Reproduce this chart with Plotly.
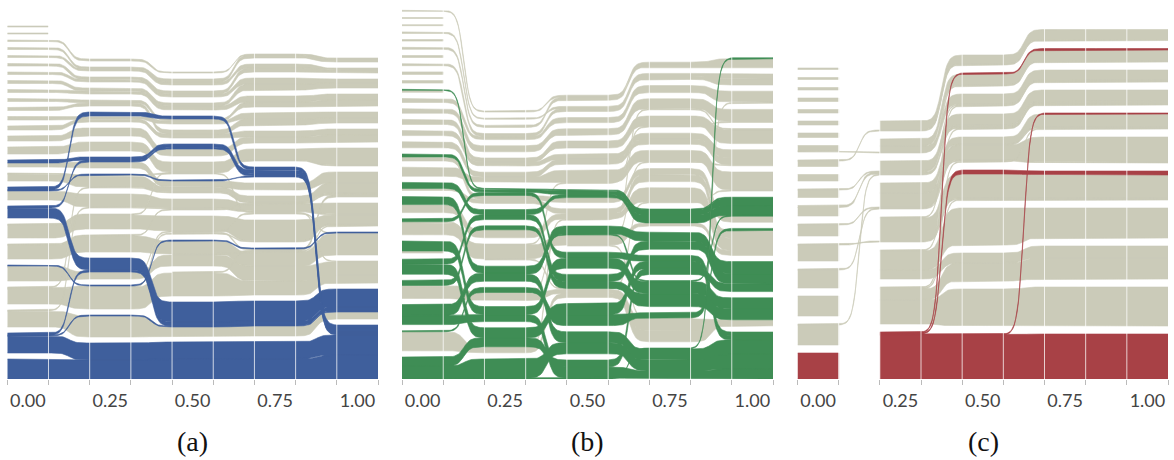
import numpy as np
import plotly.graph_objects as go

N = None  # band not present at that stage

TICK_TEXT = ["0.00", "0.25", "0.50", "0.75", "1.00"]
PANEL_LABELS = ["(a)", "(b)", "(c)"]

GRAY = "#cbcbb9"
HILITE = ["#3f5f9c", "#3f8d55", "#a84146"]

# ---------------- panel (a) ----------------
# cluster index per stage (0 = topmost cluster of that stage)
A_CLUSTERS = [
    [0, N, N, N, N], [1, N, N, N, N], [2, 0, 0, 0, 0], [3, 1, 1, 0, 0],
    [4, 1, 1, 1, 1], [5, 2, 2, 1, 1], [6, 2, 2, 2, 2], [7, 3, 3, 2, 2],
    [8, 3, 3, 3, 3], [9, 4, 4, 3, 3], [10, 4, 5, 4, 4], [11, 5, 4, 4, 4],
    [12, 5, 5, 5, 5], [13, 6, 6, 5, 5], [14, 7, 7, 6, 6], [15, 8, 8, 8, 7],
    [16, 9, 8, 9, 7], [17, 10, 9, 9, 8], [19, 11, 10, 10, 8], [20, 12, 11, 11, 9],
    [21, 13, 11, 11, 10], [22, 14, 12, 11, 10], [23, 15, 13, 12, 11],
    # single entities crossing between groups
    [19, 11, 7, 6, 6], [20, 12, 9, 9, 7], [22, 14, 10, 10, 8], [N, N, 10, 11, 7],
    [N, N, 11, 11, 8], [N, N, 12, 11, 7], [16, 9, 7, 9, 10], [21, 13, 10, 9, 9],
    [23, 10, 9, 9, 8], [22, 9, 8, 9, 7],
    # highlighted
    [25, 16, 14, 13, 12], [24, 16, 14, 13, 12], [24, 13, 13, 12, 11],
    [24, 15, 13, 12, 11], [18, 13, 13, 12, 11], [18, 8, 6, 7, 12],
    [15, 8, 6, 7, 12], [17, 5, 4, 7, 12], [17, 9, 8, 7, 12], [21, 14, 11, 11, 9],
]
A_WEIGHTS = [
    [1, 0, 0, 0, 0], [1, 0, 0, 0, 0], [1.5, 2, 1, 1, 1], [2, 2, 3, 3, 3],
    [2, 2, 3, 4, 2], [2.5, 2.5, 3, 4, 3], [2.5, 2.5, 3, 6, 4], [3, 3, 3, 6, 5],
    [3, 3, 4, 6, 6], [3, 3, 2, 5, 6], [3, 3, 4, 6, 5], [3.5, 3, 3, 6, 6],
    [4, 3, 4, 6, 6], [5, 8, 7, 6, 7], [7, 9, 10, 11, 17], [4, 6, 6, 7, 11],
    [7, 11, 5, 6, 10], [9, 13, 9, 7, 11], [13, 14, 15, 21, 9], [14, 16, 13, 14, 21],
    [14, 6, 11, 15, 13], [15, 22, 23, 14, 8], [16, 21, 9, 10, 7],
    [1, 1, 1, 1, 1], [1, 1, 1, 1, 1], [1, 1, 1, 1, 1], [0, 0, 1, 1, 1],
    [0, 0, 1, 1, 1], [0, 0, 1, 1, 1], [1, 1, 1, 1, 1], [1, 1, 1, 1, 1],
    [1, 1, 1, 1, 1], [1, 1, 1, 1, 1],
    [20, 19, 20, 20, 24], [17, 17, 17, 17, 20], [2, 2, 4, 4, 4],
    [1, 1, 1, 1, 1], [10, 12, 20, 20, 18], [2, 2, 2, 2, 2],
    [3, 3, 3, 4, 4], [3, 4, 3, 3, 3], [1, 1, 1, 1, 1], [1, 1, 1, 1, 1],
]
A_HIGHLIGHT = [0] * 33 + [1] * 10

# ---------------- panel (b) ----------------
B_CLUSTERS = [
    [0, 0, 0, 0, 0], [5, 2, 0, 0, 0], [3, 1, 1, 1, 1], [7, 3, 1, 1, 1],
    [11, 3, 2, 2, 2], [12, 4, 3, 3, 3], [13, 5, 4, 4, 4], [14, 5, 5, 5, 5],
    [15, 6, 5, 5, 5], [17, 6, 6, 6, 6], [16, 7, 7, 7, 7], [18, 7, 8, 7, 8],
    [19, 9, 8, 8, 8], [20, 10, 9, 9, 8], [23, 12, 11, 13, 10], [25, 14, 11, 13, 10],
    [1, N, N, N, N], [2, N, N, N, N], [4, N, N, N, N], [6, N, N, N, N],
    [8, N, N, N, N], [9, N, N, N, N], [10, N, N, N, N], [21, N, N, N, N],
    # single entities crossing between groups
    [20, 10, 6, 4, 3], [23, 12, 9, 6, 5], [N, 10, 11, 8, 6], [N, N, 9, 13, 2],
    [N, 14, 8, 3, 4],
    # highlighted
    [16, 7, 7, 9, 7], [18, 8, 7, 9, 7], [19, 11, 9, 10, 9], [20, 7, 10, 11, 11],
    [21, 13, 10, 12, 10], [22, 8, 11, 10, 9], [22, 14, 12, 11, 11], [23, 9, 11, 12, 10],
    [24, 11, 13, 14, 11], [24, 13, 14, 14, 11], [25, 12, 12, 13, 8], [26, 15, 13, 14, 11],
    [26, 14, 14, 11, 9], [10, 7, 7, 9, 7], [26, 15, 14, 14, 0], [24, 11, 9, 12, 7],
]
B_WEIGHTS = [
    [1, 1, 2, 2, 4], [2, 2, 3, 3, 5], [1.5, 1, 2, 3, 5], [2, 3, 3, 3, 6],
    [4, 3, 5, 7, 11], [4.5, 6, 6, 10, 12], [5, 4, 7, 10, 14], [5, 4, 5, 6, 8],
    [6, 5, 5, 5, 7], [9, 5, 12, 11, 18], [4, 4, 5, 6, 6], [2, 4, 5, 7, 8],
    [8, 8, 5, 14, 12], [12, 14, 9, 3, 5], [12, 7, 4, 12, 3], [19, 5, 4, 11, 3],
    [1, 0, 0, 0, 0], [1, 0, 0, 0, 0], [1.5, 0, 0, 0, 0], [2, 0, 0, 0, 0],
    [2.5, 0, 0, 0, 0], [2.5, 0, 0, 0, 0], [2, 0, 0, 0, 0], [2, 0, 0, 0, 0],
    [1, 1, 1, 1, 1], [1, 1, 1, 1, 1], [0, 1, 1, 1, 1], [0, 0, 1, 1, 1],
    [0, 1, 1, 1, 1],
    [3, 3, 4, 5, 8], [6, 5, 3, 8, 9], [8, 7, 8, 9, 12], [3, 3, 6, 6, 4],
    [10, 8, 10, 12, 11], [5, 5, 7, 8, 10], [10, 10, 11, 7, 4], [5, 4, 7, 13, 11],
    [10, 7, 11, 11, 14], [9, 7, 11, 8, 10], [1, 5, 11, 5, 2], [12, 19, 11, 11, 15],
    [9, 9, 7, 6, 8], [1, 1, 1, 1, 1], [1, 1, 1, 1, 1], [1, 1, 1, 1, 1],
]
B_HIGHLIGHT = [0] * 29 + [1] * 16

# ---------------- panel (c) ----------------
C_CLUSTERS = [
    [0, N, N, N, N], [1, N, N, N, N], [2, N, N, N, N], [3, N, N, N, N],
    [4, N, N, N, N], [5, N, N, N, N], [6, N, N, N, N], [7, N, N, N, N],
    [8, N, N, N, N], [9, N, N, N, N], [10, N, N, N, N], [11, N, N, N, N],
    [12, N, N, N, N], [13, N, N, N, N], [14, N, N, N, N], [15, N, N, N, N],
    [16, N, N, N, N],
    [7, 1, 1, 1, 1], [8, 0, 0, 0, 0], [10, 2, 2, 2, 2], [11, 2, 3, 3, 3],
    [12, 3, 4, 4, 4], [13, 4, 5, 6, 6], [14, 3, 4, 5, 5], [16, 2, 3, 3, 3],
    [N, 0, 0, 0, 0], [N, 1, 1, 1, 1], [N, 1, 2, 2, 2], [N, 2, 3, 3, 3],
    [N, 3, 4, 4, 4], [N, 3, 4, 5, 5], [N, 4, 5, 6, 6], [N, 5, 6, 7, 7],
    [N, 5, 7, 8, 8], [N, 6, 7, 8, 8], [N, 6, 8, 9, 9],
    [N, 4, 2, 2, 2], [N, 5, 3, 3, 3], [N, 6, 5, 6, 6], [N, 6, 4, 4, 4],
    # highlighted
    [17, N, N, N, N], [N, 7, 9, 10, 10], [N, 7, 1, 1, 1], [N, 7, 5, 6, 6],
    [N, 7, 9, 4, 4],
]
C_WEIGHTS = [
    [1.5, 0, 0, 0, 0], [2, 0, 0, 0, 0], [2.5, 0, 0, 0, 0], [3.5, 0, 0, 0, 0],
    [3.5, 0, 0, 0, 0], [4, 0, 0, 0, 0], [4.5, 0, 0, 0, 0], [5.5, 0, 0, 0, 0],
    [5.5, 0, 0, 0, 0], [6.5, 0, 0, 0, 0], [7.5, 0, 0, 0, 0], [8.5, 0, 0, 0, 0],
    [11, 0, 0, 0, 0], [16, 0, 0, 0, 0], [18, 0, 0, 0, 0], [20, 0, 0, 0, 0],
    [20, 0, 0, 0, 0],
    [1, 1, 1, 1, 1], [1, 1, 1, 1, 1], [1, 1, 1, 1, 1], [2, 2, 2, 2, 2],
    [1, 1, 1, 1, 1], [1, 1, 1, 1, 1], [1, 1, 1, 1, 1], [1, 1, 1, 1, 1],
    [0, 9, 9, 10, 10], [0, 7, 11, 11, 11], [0, 6, 10, 10, 10], [0, 10, 11, 11, 11],
    [0, 10, 7, 13, 13], [0, 14, 15, 25, 25], [0, 23, 24, 23, 23], [0, 19, 37, 30, 30],
    [0, 9, 10, 12, 12], [0, 11, 18, 21, 21], [0, 24, 37, 39, 39],
    [0, 1, 1, 1, 1], [0, 1, 1, 1, 1], [0, 1, 1, 1, 1], [0, 1, 1, 1, 1],
    [26, 0, 0, 0, 0], [0, 44, 44, 45, 45], [0, 1, 1, 1.5, 1.5], [0, 1, 4, 4, 4],
    [0, 1, 1, 1, 1],
]
C_HIGHLIGHT = [0] * 40 + [1] * 5

PANELS = [
    dict(clusters=A_CLUSTERS, weights=A_WEIGHTS, highlight=A_HIGHLIGHT, gap=6.0,
         px=(7.3, 378.0), label_x=192),
    dict(clusters=B_CLUSTERS, weights=B_WEIGHTS, highlight=B_HIGHLIGHT, gap=6.2,
         px=(402.0, 773.0), label_x=587),
    dict(clusters=C_CLUSTERS, weights=C_WEIGHTS, highlight=C_HIGHLIGHT, gap=8.0,
         px=(797.5, 1168.0), label_x=983),
]

W, H = 1174, 460
N_STAGE = 5
N_COL = 2 * N_STAGE - 1
Y_BOTTOM_PX, Y_TOP_PX = 379, 5
STEEP = 6.5


def layout_bands(clusters, weights, highlight, gap, sweeps=10):
    """Stack the groups of every stage from the bottom and order the bands inside them."""
    nb = len(clusters)
    tops, sizes = [], []
    for s in range(N_STAGE):
        sz = {}
        for b in range(nb):
            c = clusters[b][s]
            if c is not None:
                sz[c] = sz.get(c, 0.0) + weights[b][s]
        tp, y = {}, 0.0
        for c in range(max(sz), -1, -1):
            tp[c] = y + sz.get(c, 0.0)
            y += sz.get(c, 0.0) + gap
        tops.append(tp)
        sizes.append(sz)

    center = np.full((nb, N_STAGE), np.nan)
    for b in range(nb):
        for s in range(N_STAGE):
            c = clusters[b][s]
            if c is not None:
                center[b, s] = tops[s][c] - sizes[s][c] / 2
    yb = np.full((nb, N_STAGE), np.nan)
    yt = np.full((nb, N_STAGE), np.nan)

    for it in range(sweeps):
        order = range(N_STAGE) if it % 2 == 0 else range(N_STAGE - 1, -1, -1)
        for s in order:
            members = {}
            for b in range(nb):
                c = clusters[b][s]
                if c is not None:
                    members.setdefault(c, []).append(b)
            for c, bl in members.items():
                def key(b):
                    nbrs = [center[b, t] for t in (s - 1, s + 1)
                            if 0 <= t < N_STAGE and not np.isnan(center[b, t])]
                    k = np.mean(nbrs) if nbrs else center[b, s]
                    return (0 if highlight[b] else 1, -k, b)
                bl.sort(key=key)
                top = tops[s][c]
                for b in bl:
                    w = weights[b][s]
                    yt[b, s] = top
                    yb[b, s] = top - w
                    center[b, s] = top - w / 2
                    top -= w
    return yb, yt


def sig(t):
    return 0.5 + 0.5 * np.tanh(STEEP * (t - 0.5)) / np.tanh(STEEP / 2)


def band_polygon(present, ybot, ytop):
    xs, top, bot = [], [], []
    t = np.linspace(0, 1, 31)[1:-1]
    for s in range(N_STAGE):
        if not present[s]:
            continue
        xs += [2 * s, 2 * s + 1]
        top += [ytop[s], ytop[s]]
        bot += [ybot[s], ybot[s]]
        if s + 1 < N_STAGE and present[s + 1]:
            f = sig(t)
            xs += list(2 * s + 1 + t)
            top += list(ytop[s] + (ytop[s + 1] - ytop[s]) * f)
            bot += list(ybot[s] + (ybot[s + 1] - ybot[s]) * f)
    return xs + xs[::-1], top + bot[::-1]


fig = go.Figure()
shapes = []
annotations = []
y_range = [0, Y_BOTTOM_PX - Y_TOP_PX]
y_domain = [(H - Y_BOTTOM_PX) / H, (H - Y_TOP_PX) / H]

for i, p in enumerate(PANELS):
    xname = "x" if i == 0 else f"x{i + 1}"
    yb, yt = layout_bands(p["clusters"], p["weights"], p["highlight"], p["gap"])
    groups = {0: ([], []), 1: ([], [])}
    for b, cl in enumerate(p["clusters"]):
        present = [c is not None for c in cl]
        px_, py_ = band_polygon(present, yb[b], yt[b])
        gx, gy = groups[p["highlight"][b]]
        gx += px_ + [None]
        gy += py_ + [None]
    for h, color in ((0, GRAY), (1, HILITE[i])):
        gx, gy = groups[h]
        fig.add_trace(go.Scatter(
            x=gx, y=gy, mode="lines", fill="toself", fillcolor=color,
            line=dict(color=color, width=0.6), hoverinfo="skip",
            showlegend=False, xaxis=xname, yaxis="y"))

    ymax = np.nanmax(yt) + 2
    for k in range(1, N_COL):
        shapes.append(dict(type="line", xref=xname, yref="y", x0=k, x1=k, y0=0, y1=ymax,
                           line=dict(color="rgba(255,255,255,0.75)", width=1), layer="above"))

    axis = dict(
        domain=[p["px"][0] / W, p["px"][1] / W], range=[0, N_COL], anchor="y",
        tickmode="array", tickvals=[2 * s + 0.5 for s in range(N_STAGE)], ticktext=TICK_TEXT,
        ticks="", showgrid=False, zeroline=False, showline=False, fixedrange=True,
        ticklabelstandoff=9,
        tickfont=dict(family="Lato", size=18, color="#444444"),
        minor=dict(tickmode="array", tickvals=list(range(N_COL + 1)), ticks="outside",
                   ticklen=5, tickwidth=1, tickcolor="#bbbbbb", showgrid=False),
    )
    fig.update_layout({("xaxis" if i == 0 else f"xaxis{i + 1}"): axis})
    annotations.append(dict(text=PANEL_LABELS[i], xref="paper", yref="paper",
                            x=p["label_x"] / W, y=(H - 441) / H, showarrow=False,
                            xanchor="center", yanchor="middle",
                            font=dict(family="Liberation Serif", size=28, color="#111111")))

fig.update_layout(
    width=W, height=H, margin=dict(l=0, r=0, t=0, b=0),
    paper_bgcolor="white", plot_bgcolor="white",
    yaxis=dict(domain=y_domain, range=y_range, visible=False, fixedrange=True),
    shapes=shapes, annotations=annotations, showlegend=False,
)

fig.write_html("out.html")
